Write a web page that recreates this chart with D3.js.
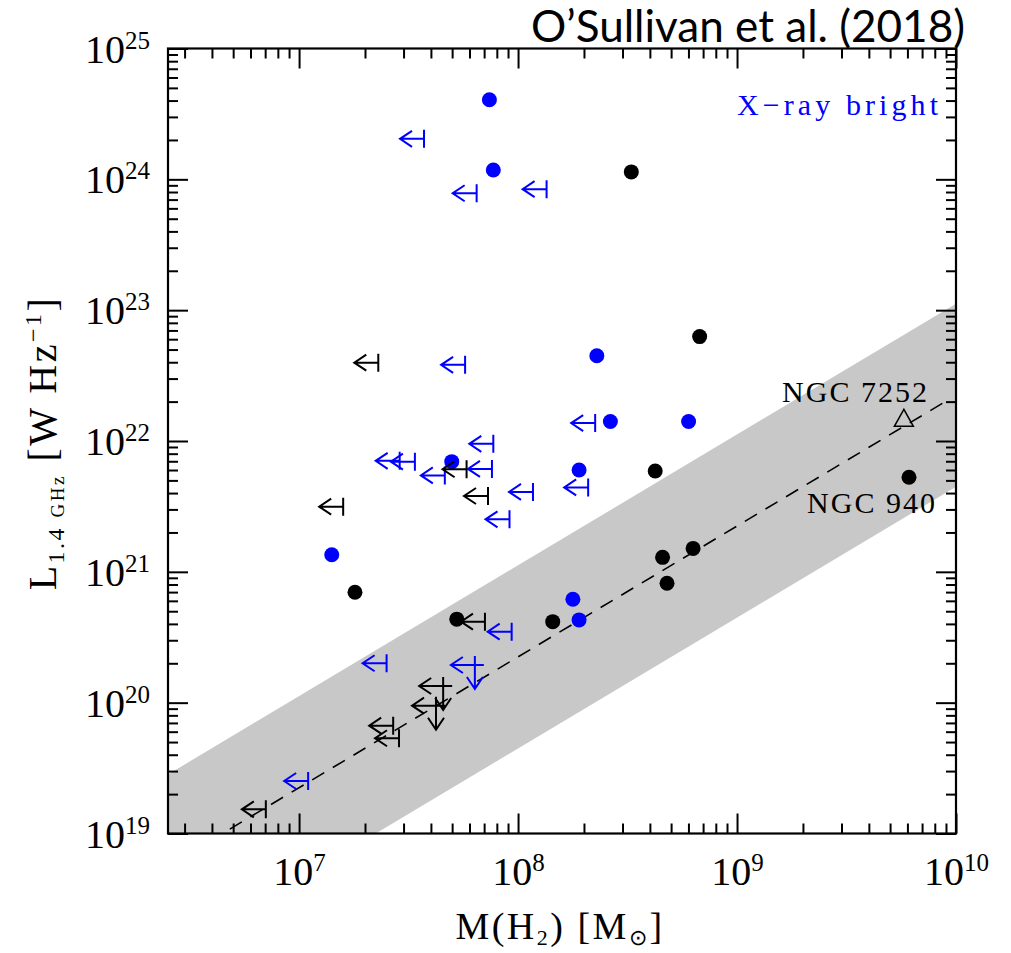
<!DOCTYPE html>
<html>
<head>
<meta charset="utf-8">
<script src="https://cdn.jsdelivr.net/npm/d3@7"></script>
<style>
  body { margin: 0; background: #fff; }
  svg { display: block; }
  .tick line { stroke: #000; stroke-width: 2; }
  .domain { display: none; }
</style>
</head>
<body>
<div id="chart"></div>
<script>
// H2 mass [Msun] and 1.4 GHz luminosity [W/Hz]

// X-ray bright detections (blue dots)
const blueDetM = [7.40e7, 7.71e7, 2.29e8, 2.64e8, 6.01e8, 1.90e8, 4.98e7, 1.41e7, 1.78e8, 1.90e8];
const blueDetL = [4.06e24, 1.18e24, 4.48e22, 1.41e22, 1.41e22, 6.01e21, 6.95e21, 1.35e21, 6.18e20, 4.29e20];

// other detections (black dots)
const blackDetM = [3.29e8, 6.75e8, 4.23e8, 6.10e9, 1.80e7, 5.25e7, 1.44e8, 4.57e8, 6.30e8, 4.79e8];
const blackDetL = [1.14e24, 6.28e22, 5.90e21, 5.28e21, 6.98e20, 4.35e20, 4.16e20, 1.29e21, 1.51e21, 8.18e20];

// H2 mass upper limits (left arrows)
const blueLimM = [3.72e7, 6.47e7, 1.35e8, 5.73e7, 7.71e7, 2.88e7, 3.38e7, 4.63e7, 7.60e7, 1.17e8, 9.14e7, 2.25e8, 2.09e8, 9.35e7, 2.51e7, 1.10e7];
const blueLimL = [2.04e24, 7.83e23, 8.41e23, 3.82e22, 9.51e21, 7.05e21, 6.95e21, 5.46e21, 6.12e21, 4.08e21, 2.52e21, 1.37e22, 4.42e21, 3.49e20, 2.00e20, 2.52e19];
const blackLimM = [2.30e7, 5.82e7, 7.29e7, 1.59e7, 7.06e7, 2.69e7, 2.86e7, 7.05e6];
const blackLimL = [3.97e22, 6.08e21, 3.80e21, 3.15e21, 4.16e20, 6.67e19, 5.35e19, 1.53e19];

// upper limits in both quantities (left + down arrows)
const blueBothM = [6.35e7];
const blueBothL = [1.94e20];
const blackBothM = [4.55e7, 4.22e7];
const blackBothL = [1.34e20, 9.48e19];

// NGC 7252 (open triangle)
const triM = [5.78e9];
const triL = [1.49e22];

// relation L = M * 10^norm, shaded band +/- scatter dex
const relNorm = 12.35;
const relScatter = 0.7;
const relM = [2.52e6, 1e10];
const relDashM = [2.52e6, 9e9];

const majorX = [1e7, 1e8, 1e9, 1e10];
const majorY = [1e19, 1e20, 1e21, 1e22, 1e23, 1e24, 1e25];

const blue = '#0000ff';

const W = 1011, H = 953;
const plot = {left: 168, top: 48.5, right: 956, bottom: 833.5};

const svg = d3.select('#chart').append('svg')
  .attr('width', W)
  .attr('height', H);

const x = d3.scaleLog().domain([2.52e6, 1e10]).range([plot.left, plot.right]);
const y = d3.scaleLog().domain([1e19, 1e25]).range([plot.bottom, plot.top]);

function minorTicks(domain) {
  const out = [];
  const lo = Math.floor(Math.log10(domain[0])), hi = Math.ceil(Math.log10(domain[1]));
  for (let e = lo; e <= hi; e++) {
    for (let k = 2; k <= 9; k++) {
      const v = k * Math.pow(10, e);
      if (v >= domain[0] && v <= domain[1]) out.push(v);
    }
  }
  return out;
}

svg.append('clipPath').attr('id', 'clip')
  .append('rect')
    .attr('x', plot.left).attr('y', plot.top)
    .attr('width', plot.right - plot.left)
    .attr('height', plot.bottom - plot.top);

// shaded band
const band = d3.area()
  .x(d => x(d))
  .y0(d => y(d * Math.pow(10, relNorm - relScatter)))
  .y1(d => y(d * Math.pow(10, relNorm + relScatter)));

svg.append('path')
  .datum(relM)
  .attr('clip-path', 'url(#clip)')
  .attr('fill', '#c8c8c8')
  .attr('d', band);

// dashed relation
const relLine = d3.line()
  .x(d => x(d))
  .y(d => y(d * Math.pow(10, relNorm)));

svg.append('path')
  .datum(relDashM)
  .attr('clip-path', 'url(#clip)')
  .attr('fill', 'none')
  .attr('stroke', '#000')
  .attr('stroke-width', 1.6)
  .attr('stroke-dasharray', '14,10')
  .attr('d', relLine);

// ticks on all four sides, pointing inwards
function addAxis(axisFn, scale, values, size, transform) {
  return svg.append('g')
    .attr('transform', transform)
    .call(axisFn(scale).tickValues(values).tickSizeInner(-size).tickSizeOuter(0).tickFormat(''));
}

const minorX = minorTicks(x.domain());
const minorY = minorTicks(y.domain());

const xAxis = addAxis(d3.axisBottom, x, majorX, 20, `translate(0,${plot.bottom})`);
addAxis(d3.axisBottom, x, minorX, 10, `translate(0,${plot.bottom})`);
addAxis(d3.axisTop, x, majorX, 20, `translate(0,${plot.top})`);
addAxis(d3.axisTop, x, minorX, 10, `translate(0,${plot.top})`);
const yAxis = addAxis(d3.axisLeft, y, majorY, 20, `translate(${plot.left},0)`);
addAxis(d3.axisLeft, y, minorY, 10, `translate(${plot.left},0)`);
addAxis(d3.axisRight, y, majorY, 20, `translate(${plot.right},0)`);
addAxis(d3.axisRight, y, minorY, 10, `translate(${plot.right},0)`);

function powerLabel(sel) {
  sel.each(function(d) {
    const t = d3.select(this).text(null);
    t.append('tspan').text('10');
    t.append('tspan').attr('font-size', 25).attr('dy', -14).text(Math.round(Math.log10(d)));
  });
}

xAxis.attr('font-family', 'Liberation Serif').attr('font-size', 40)
  .selectAll('.tick text')
    .attr('y', 51.5).attr('dy', null)
    .attr('fill', '#000')
    .call(powerLabel);

yAxis.attr('font-family', 'Liberation Serif').attr('font-size', 40)
  .selectAll('.tick text')
    .attr('x', -18).attr('y', 13.5).attr('dy', null)
    .attr('fill', '#000')
    .call(powerLabel);

// frame
svg.append('rect')
  .attr('x', plot.left).attr('y', plot.top)
  .attr('width', plot.right - plot.left)
  .attr('height', plot.bottom - plot.top)
  .attr('fill', 'none')
  .attr('stroke', '#000')
  .attr('stroke-width', 2.2);

// symbols
const leftArrow = (px, py) =>
  `M${px},${py - 9}L${px},${py + 9}M${px},${py}L${px - 24},${py}` +
  `M${px - 12},${py - 8}L${px - 24},${py}L${px - 12},${py + 8}`;
const downArrow = (px, py) =>
  `M${px - 9},${py}L${px + 9},${py}M${px},${py}L${px},${py + 24}` +
  `M${px - 8},${py + 12}L${px},${py + 24}L${px + 8},${py + 12}`;

function drawDots(ms, ls, color) {
  svg.append('g').selectAll('circle')
    .data(d3.zip(ms, ls))
    .join('circle')
      .attr('cx', d => x(d[0]))
      .attr('cy', d => y(d[1]))
      .attr('r', 7.5)
      .attr('fill', color);
}

function drawLimits(ms, ls, color, both) {
  svg.append('g').selectAll('path')
    .data(d3.zip(ms, ls))
    .join('path')
      .attr('fill', 'none')
      .attr('stroke', color)
      .attr('stroke-width', 2)
      .attr('d', d => {
        const px = x(d[0]), py = y(d[1]);
        return leftArrow(px, py) + (both ? downArrow(px, py) : '');
      });
}

drawDots(blueDetM, blueDetL, blue);
drawLimits(blueLimM, blueLimL, blue, false);
drawLimits(blueBothM, blueBothL, blue, true);
drawDots(blackDetM, blackDetL, '#000');
drawLimits(blackLimM, blackLimL, '#000', false);
drawLimits(blackBothM, blackBothL, '#000', true);

svg.append('g').selectAll('path')
  .data(d3.zip(triM, triL))
  .join('path')
    .attr('fill', 'none')
    .attr('stroke', '#000')
    .attr('stroke-width', 1.5)
    .attr('d', d => {
      const px = x(d[0]), py = y(d[1]);
      return `M${px},${py - 9}L${px - 9.5},${py + 8}L${px + 9.5},${py + 8}Z`;
    });

// annotations
function note(txt, x0, x1, yb, color) {
  svg.append('text')
    .attr('x', x0).attr('y', yb)
    .attr('font-family', 'Liberation Serif')
    .attr('font-size', 30)
    .attr('fill', color)
    .attr('textLength', x1 - x0)
    .attr('lengthAdjust', 'spacing')
    .text(txt);
}
note('X\u2212ray bright', 737, 938, 115, blue);
note('NGC 7252', 782, 927, 402, '#000');
note('NGC 940', 807, 935, 513, '#000');

// title
svg.append('text')
  .attr('x', 531).attr('y', 42)
  .attr('font-family', 'Lato')
  .attr('font-size', 44)
  .attr('textLength', 434)
  .attr('lengthAdjust', 'spacingAndGlyphs')
  .text('O\u2019Sullivan et al. (2018)');

// axis titles
const xt = svg.append('text')
  .attr('x', 560).attr('y', 939)
  .attr('text-anchor', 'middle')
  .attr('font-family', 'Liberation Serif')
  .attr('font-size', 38)
  .attr('letter-spacing', 2.5);
xt.append('tspan').text('M(H');
xt.append('tspan').attr('font-size', 22).attr('dy', 6).text('2');
xt.append('tspan').attr('dy', -6).text(')  [M');
xt.append('tspan').attr('font-size', 22).attr('dy', 6).text('\u2299');
xt.append('tspan').attr('dy', -6).text(']');

const yt = svg.append('text')
  .attr('transform', 'translate(56,443) rotate(-90)')
  .attr('text-anchor', 'middle')
  .attr('font-family', 'Liberation Serif')
  .attr('font-size', 40)
  .attr('letter-spacing', 2.5);
yt.append('tspan').text('L');
yt.append('tspan').attr('font-size', 24).attr('dy', 8).text('1.4 ');
yt.append('tspan').attr('font-size', 19).text('GHz');
yt.append('tspan').attr('dy', -8).text('  [W  Hz');
yt.append('tspan').attr('font-size', 24).attr('dy', -15).text('\u22121');
yt.append('tspan').attr('dy', 15).text(']');
</script>
</body>
</html>
